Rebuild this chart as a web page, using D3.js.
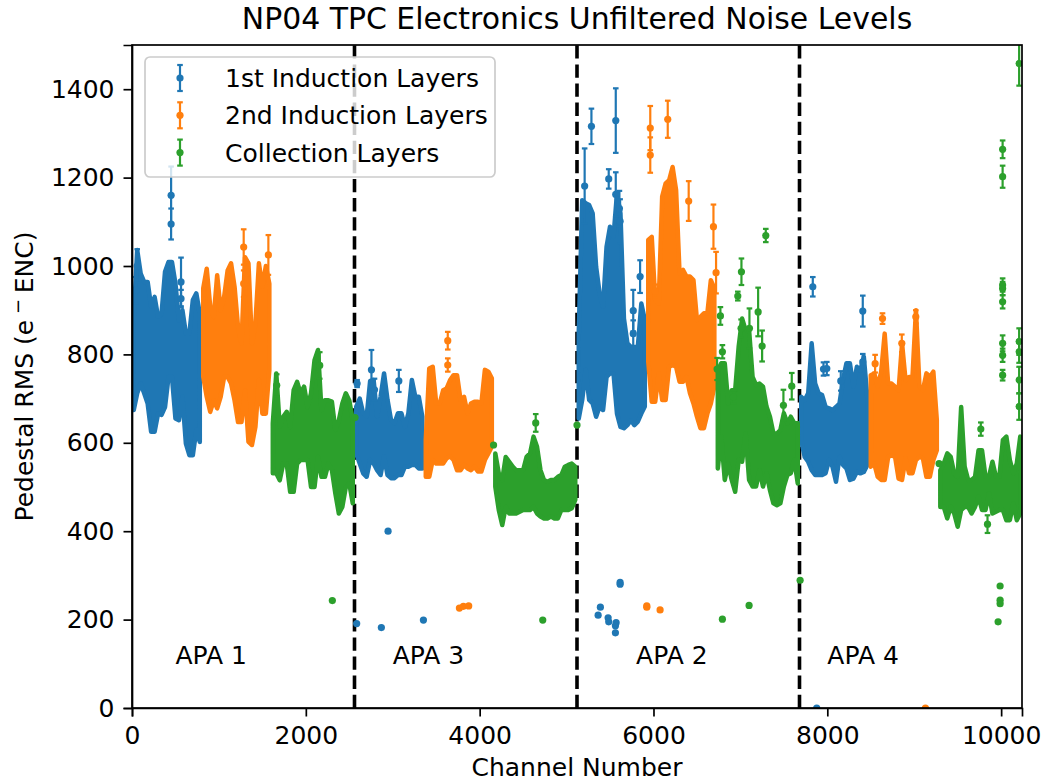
<!DOCTYPE html>
<html>
<head>
<meta charset="utf-8">
<script src="https://cdnjs.cloudflare.com/ajax/libs/d3/7.8.5/d3.min.js"></script>
<style>
    body { margin: 0; background: #fff; }
    svg { display: block; }
    text { font-family: "DejaVu Sans", sans-serif; fill: #000; }
    .axis path, .axis line { stroke: #000; stroke-width: 1.7px; }
    .axis text { font-size: 25px; font-family: "DejaVu Sans", sans-serif; }
</style>
</head>
<body>
<div id="chart-container"></div>
<script>
"use strict";

const title = "NP04 TPC Electronics Unfiltered Noise Levels";
const seriesNames = ["1st Induction Layers", "2nd Induction Layers", "Collection Layers"];
const seriesColors = ["#1f77b4", "#ff7f0e", "#2ca02c"];
const xTicks = [0, 2000, 4000, 6000, 8000, 10000];
const yTicks = [0, 200, 400, 600, 800, 1000, 1200, 1400];
const apaEdges = [2560, 5120, 7680];
const apaNames = ["APA 1", "APA 3", "APA 2", "APA 4"];
const apaLabelX = [500, 3000, 5800, 8000];
const apaLabelY = 100;

// the dense part of each series, read as upper/lower edge per 40 channel bin
// order along the x axis: APA 1, APA 3, APA 2, APA 4
const binWidth = 40;
const apaStarts = [0, 2560, 5120, 7680];
const ind1Offset = 0, ind2Offset = 800, collOffset = 1600;

const ind1Hi = [
    885, 1036, 983, 964, 964, 908, 930, 885, 892, 987, 1009, 1009, 960, 877, 900, 847, 847, 923, 938, 892,
    682, 700, 667, 659, 740, 742, 659, 704, 757, 697, 652, 644, 667, 667, 636, 667, 742, 704, 704, 659,
    847, 1149, 1142, 1138, 1119, 998, 938, 908, 1043, 1089, 1066, 1164, 1119, 881, 825, 817, 817, 817, 915, 878,
    704, 697, 712, 825, 734, 712, 708, 681, 678, 674, 681, 689, 742, 780, 780, 727, 772, 764, 795, 704
];
const ind1Lo = [
    674, 712, 734, 712, 689, 625, 625, 666, 663, 681, 749, 749, 655, 651, 704, 598, 572, 572, 629, 602,
    576, 553, 531, 523, 561, 553, 538, 527, 569, 527, 520, 520, 527, 527, 546, 546, 550, 550, 542, 542,
    655, 697, 765, 697, 689, 659, 682, 674, 749, 757, 757, 666, 636, 633, 640, 651, 640, 648, 666, 682,
    606, 568, 557, 538, 527, 527, 527, 531, 561, 546, 512, 568, 550, 542, 516, 519, 534, 531, 534, 550
];
const ind2Hi = [
    950, 994, 908, 885, 979, 900, 930, 990, 1006, 953, 862, 825, 1020, 1006, 825, 870, 1006, 953, 1000, 960,
    606, 768, 772, 689, 689, 719, 723, 742, 753, 753, 697, 704, 667, 689, 693, 693, 689, 765, 761, 746,
    1059, 1066, 923, 915, 1157, 1187, 1194, 1224, 1172, 983, 991, 976, 976, 968, 878, 885, 893, 893, 968, 950,
    753, 757, 727, 761, 847, 734, 734, 727, 719, 825, 742, 749, 749, 900, 727, 719, 757, 749, 761, 651
];
const ind2Lo = [
    749, 704, 670, 696, 678, 704, 749, 749, 734, 696, 647, 647, 719, 602, 595, 636, 742, 666, 666, 764,
    523, 523, 561, 553, 553, 553, 565, 569, 561, 538, 538, 550, 542, 538, 546, 535, 535, 561, 576, 591,
    783, 693, 693, 757, 697, 697, 772, 776, 772, 738, 738, 749, 712, 689, 659, 633, 633, 666, 689, 727,
    546, 553, 523, 516, 516, 568, 572, 568, 519, 516, 565, 531, 531, 561, 568, 565, 523, 523, 561, 583
];
const collHi = [
    644, 757, 636, 659, 670, 636, 719, 738, 712, 727, 681, 712, 787, 810, 674, 696, 696, 693, 629, 651, 689, 712, 696, 651,
    576, 531, 516, 568, 557, 546, 538, 538, 538, 568, 576, 614, 591, 538, 516, 512, 516, 516, 523, 527, 546, 550, 553, 546,
    764, 780, 780, 689, 719, 719, 817, 881, 855, 855, 749, 731, 734, 727, 682, 659, 621, 621, 629, 667, 644, 659, 644, 644,
    538, 553, 576, 568, 531, 523, 681, 546, 516, 516, 523, 583, 583, 523, 523, 557, 523, 523, 606, 614, 561, 531, 553, 614
];
const collLo = [
    531, 531, 515, 553, 553, 489, 489, 553, 561, 561, 561, 500, 500, 568, 523, 523, 553, 538, 485, 440, 455, 500, 508, 463,
    501, 448, 414, 455, 440, 440, 440, 444, 448, 448, 448, 455, 440, 433, 429, 429, 433, 429, 429, 448, 448, 448, 452, 471,
    542, 614, 516, 553, 516, 489, 561, 557, 621, 516, 501, 501, 538, 501, 531, 493, 463, 459, 463, 501, 527, 531, 561, 508,
    455, 455, 429, 455, 440, 410, 448, 455, 455, 440, 455, 478, 448, 448, 485, 440, 444, 448, 448, 425, 425, 463, 425, 440
];

// single channels standing clear of the dense part, with their error bars
const ind1PtCh = [60, 45, 450, 450, 564, 564, 2590, 2755, 2790, 3070, 2946, 2585, 2869, 3353, 5286, 5566, 5485, 5566, 5608, 5616, 5846, 5767, 5767, 5208, 5616, 5616, 5389, 5363, 5478, 5485, 5570, 5562, 5562, 7833, 8408, 7956, 7994, 8155, 8408, 7878];
const ind1PtVal = [1000, 945, 1160, 1095, 964, 926, 734, 765, 720, 740, 400, 191, 182, 199, 1316, 1329, 1197, 1162, 1130, 1101, 976, 899, 847, 1181, 284, 280, 228, 210, 204, 195, 193, 186, 170, 953, 898, 767, 768, 740, 783, 0];
const ind1PtErr = [38, 30, 65, 35, 55, 20, 8, 45, 25, 25, 3, 3, 3, 3, 40, 73, 22, 50, 40, 50, 37, 47, 30, 85, 3, 3, 3, 3, 3, 3, 3, 3, 3, 22, 35, 15, 15, 22, 18, 3];
const ind2PtCh = [1285, 1569, 1285, 1324, 3633, 3633, 3767, 3813, 3874, 5963, 5963, 6164, 6405, 6690, 6720, 6020, 5923, 5923, 6076, 8635, 8550, 8857, 9018, 9129];
const ind2PtVal = [1043, 1025, 960, 983, 831, 776, 226, 230, 231, 1312, 1251, 1332, 1147, 1089, 985, 943, 231, 228, 222, 881, 779, 825, 885, 0];
const ind2PtErr = [40, 45, 30, 25, 20, 15, 3, 3, 3, 50, 40, 42, 45, 50, 47, 15, 3, 3, 3, 12, 20, 20, 15, 3];
const collPtCh = [2566, 4160, 4645, 5120, 7292, 7012, 6970, 7204, 6770, 7008, 7104, 7250, 6793, 6732, 7495, 7591, 6920, 9286, 9766, 9843, 2305, 4726, 6793, 7100, 7687, 10017, 10017, 10017, 10017, 10017, 10017, 10017, 10017, 10207, 10207, 10207, 10207, 10207, 9988, 9988, 9988, 9965, 1665, 2160];
const collPtVal = [657, 595, 645, 640, 1069, 987, 932, 896, 887, 859, 859, 819, 806, 767, 685, 728, 704, 553, 631, 416, 243, 199, 201, 232, 289, 1264, 1202, 957, 949, 919, 825, 798, 753, 1458, 829, 806, 742, 682, 276, 244, 236, 195, 730, 775];
const collPtErr = [3, 3, 20, 3, 15, 30, 10, 55, 20, 20, 45, 35, 15, 25, 35, 30, 15, 3, 15, 20, 3, 3, 3, 3, 3, 20, 25, 15, 15, 15, 18, 15, 12, 50, 30, 25, 30, 30, 3, 3, 3, 3, 25, 30];

const margin = {top: 45, right: 30, bottom: 75, left: 132};
const width = 1052 - margin.left - margin.right;
const height = 783 - margin.top - margin.bottom;

const x = d3.scaleLinear().domain([0, 10240]).range([0, width]);
const y = d3.scaleLinear().domain([0, 1500]).range([height, 0]);

const svg = d3.select("#chart-container").append("svg")
    .attr("width", 1052)
    .attr("height", 783)
    .append("g")
    .attr("transform", "translate(" + margin.left + "," + margin.top + ")");

svg.append("clipPath").attr("id", "plot-clip")
    .append("rect").attr("width", width).attr("height", height);

svg.append("text")
    .attr("x", width / 2)
    .attr("y", -16)
    .attr("text-anchor", "middle")
    .style("font-size", "29.9px")
    .text(title);

const plot = svg.append("g").attr("clip-path", "url(#plot-clip)");

plot.selectAll(".apa-edge")
    .data(apaEdges)
    .join("line")
    .attr("class", "apa-edge")
    .attr("x1", (d) => x(d))
    .attr("x2", (d) => x(d))
    .attr("y1", height)
    .attr("y2", 0)
    .attr("stroke", "#000")
    .attr("stroke-width", 3.6)
    .attr("stroke-dasharray", "13.3,5.8");

// one list of bins per APA, so the area does not run across from one APA to the next
function binRows(hi, lo, offset, perApa) {
    const rows = hi.map((h, i) => {
        const apa = Math.floor(i / perApa);
        return {apa: apa, ch: apaStarts[apa] + offset + (i % perApa + 0.5) * binWidth, hi: h, lo: lo[i]};
    });
    return d3.groups(rows, (d) => d.apa).map((g) => g[1]);
}

function pointRows(chs, vals, errs) {
    return chs.map((c, i) => ({ch: c, val: vals[i], err: errs[i]}));
}

const band = d3.area()
    .x((d) => x(d.ch))
    .y0((d) => y(d.lo))
    .y1((d) => y(d.hi));

function drawSeries(bins, points, color) {
    const g = plot.append("g");

    g.selectAll(".band")
        .data(bins)
        .join("path")
        .attr("class", "band")
        .attr("d", band)
        .attr("fill", color)
        .attr("stroke", color)
        .attr("stroke-width", 4.5)
        .attr("stroke-linejoin", "round");

    // points with a tiny error only get the dot
    const withBar = points.filter((d) => d.err > 3);
    g.selectAll(".err")
        .data(withBar)
        .join("line")
        .attr("class", "err")
        .attr("x1", (d) => x(d.ch))
        .attr("x2", (d) => x(d.ch))
        .attr("y1", (d) => y(d.val - d.err))
        .attr("y2", (d) => y(d.val + d.err))
        .attr("stroke", color)
        .attr("stroke-width", 2.2);

    [-1, 1].forEach((sign) => {
        g.selectAll(".cap" + sign)
            .data(withBar)
            .join("line")
            .attr("class", "cap" + sign)
            .attr("x1", (d) => x(d.ch) - 2.8)
            .attr("x2", (d) => x(d.ch) + 2.8)
            .attr("y1", (d) => y(d.val + sign * d.err))
            .attr("y2", (d) => y(d.val + sign * d.err))
            .attr("stroke", color)
            .attr("stroke-width", 2.2);
    });

    g.selectAll(".pt")
        .data(points)
        .join("circle")
        .attr("class", "pt")
        .attr("cx", (d) => x(d.ch))
        .attr("cy", (d) => y(d.val))
        .attr("r", 3.6)
        .attr("fill", color);
}

drawSeries(binRows(ind1Hi, ind1Lo, ind1Offset, 20), pointRows(ind1PtCh, ind1PtVal, ind1PtErr), seriesColors[0]);
drawSeries(binRows(ind2Hi, ind2Lo, ind2Offset, 20), pointRows(ind2PtCh, ind2PtVal, ind2PtErr), seriesColors[1]);
drawSeries(binRows(collHi, collLo, collOffset, 24), pointRows(collPtCh, collPtVal, collPtErr), seriesColors[2]);

svg.selectAll(".apa-label")
    .data(apaNames)
    .join("text")
    .attr("class", "apa-label")
    .attr("x", (d, i) => x(apaLabelX[i]))
    .attr("y", y(apaLabelY))
    .style("font-size", "25px")
    .text((d) => d);

// legend
const legend = svg.append("g").attr("transform", "translate(13,12)");
legend.append("rect")
    .attr("width", 350)
    .attr("height", 120)
    .attr("rx", 5)
    .attr("fill", "#fff")
    .attr("fill-opacity", 0.8)
    .attr("stroke", "#ccc")
    .attr("stroke-width", 1.7);

const item = legend.selectAll(".item")
    .data(seriesNames)
    .join("g")
    .attr("class", "item")
    .attr("transform", (d, i) => "translate(0," + (21 + i * 37.3) + ")");

item.append("line")
    .attr("x1", 35).attr("x2", 35).attr("y1", -13).attr("y2", 13)
    .attr("stroke", (d, i) => seriesColors[i]).attr("stroke-width", 2.2);
[-13, 13].forEach((dy) => {
    item.append("line")
        .attr("x1", 32.2).attr("x2", 37.8).attr("y1", dy).attr("y2", dy)
        .attr("stroke", (d, i) => seriesColors[i]).attr("stroke-width", 2.2);
});
item.append("circle")
    .attr("cx", 35).attr("r", 3.6)
    .attr("fill", (d, i) => seriesColors[i]);
item.append("text")
    .attr("x", 80)
    .attr("y", 9)
    .style("font-size", "25px")
    .text((d) => d);

// axes
svg.append("g")
    .attr("class", "axis axis--x")
    .attr("transform", "translate(0," + height + ")")
    .call(d3.axisBottom(x).tickValues(xTicks).tickFormat(d3.format("d")).tickSize(8.5).tickPadding(10));

svg.append("g")
    .attr("class", "axis axis--y")
    .call(d3.axisLeft(y).tickValues(yTicks).tickFormat(d3.format("d")).tickSize(8.5).tickPadding(9));

svg.append("rect")
    .attr("width", width)
    .attr("height", height)
    .attr("fill", "none")
    .attr("stroke", "#000")
    .attr("stroke-width", 1.7);

svg.append("text")
    .attr("x", width / 2)
    .attr("y", 731)
    .attr("text-anchor", "middle")
    .style("font-size", "25px")
    .text("Channel Number");

const yLabel = svg.append("text")
    .attr("text-anchor", "middle")
    .attr("transform", "translate(-99," + (height / 2) + ")rotate(-90)")
    .style("font-size", "25px");
yLabel.append("tspan").text("Pedestal RMS (e");
yLabel.append("tspan").attr("dy", -9).style("font-size", "18px").text(" \u2212 ");
yLabel.append("tspan").attr("dy", 9).text("ENC)");
</script>
</body>
</html>
